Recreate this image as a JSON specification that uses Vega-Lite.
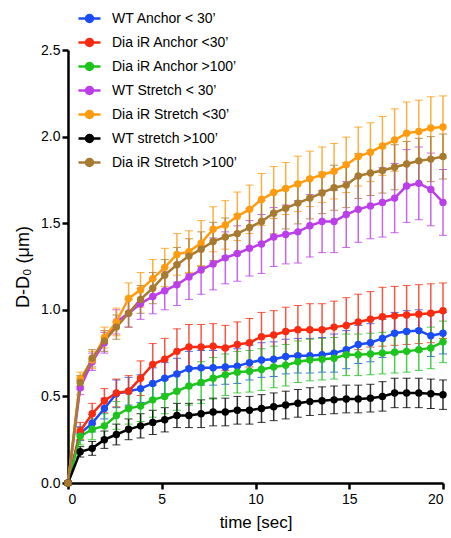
{
  "$schema": "https://vega.github.io/schema/vega-lite/v6.json",
  "width": 375,
  "height": 433,
  "autosize": "none",
  "padding": {"left": 68, "top": 50, "right": 8, "bottom": 55},
  "background": "white",
  "config": {"font": "Liberation Sans", "view": {"stroke": null}},
  "datasets": {
    "d": [
      {"s":"WT Anchor < 30’","t":0,"v":0,"e":0.01},{"s":"WT Anchor < 30’","t":0.65,"v":0.285,"e":0.04},{"s":"WT Anchor < 30’","t":1.29,"v":0.345,"e":0.05},{"s":"WT Anchor < 30’","t":1.94,"v":0.43,"e":0.06},{"s":"WT Anchor < 30’","t":2.58,"v":0.515,"e":0.08},{"s":"WT Anchor < 30’","t":3.23,"v":0.53,"e":0.08},{"s":"WT Anchor < 30’","t":3.87,"v":0.545,"e":0.08},{"s":"WT Anchor < 30’","t":4.52,"v":0.575,"e":0.09},{"s":"WT Anchor < 30’","t":5.16,"v":0.605,"e":0.09},{"s":"WT Anchor < 30’","t":5.81,"v":0.63,"e":0.09},{"s":"WT Anchor < 30’","t":6.45,"v":0.66,"e":0.1},{"s":"WT Anchor < 30’","t":7.1,"v":0.665,"e":0.1},{"s":"WT Anchor < 30’","t":7.74,"v":0.665,"e":0.1},{"s":"WT Anchor < 30’","t":8.39,"v":0.67,"e":0.1},{"s":"WT Anchor < 30’","t":9.03,"v":0.675,"e":0.1},{"s":"WT Anchor < 30’","t":9.68,"v":0.695,"e":0.1},{"s":"WT Anchor < 30’","t":10.32,"v":0.71,"e":0.1},{"s":"WT Anchor < 30’","t":10.97,"v":0.715,"e":0.1},{"s":"WT Anchor < 30’","t":11.61,"v":0.73,"e":0.1},{"s":"WT Anchor < 30’","t":12.26,"v":0.735,"e":0.1},{"s":"WT Anchor < 30’","t":12.9,"v":0.735,"e":0.1},{"s":"WT Anchor < 30’","t":13.55,"v":0.74,"e":0.1},{"s":"WT Anchor < 30’","t":14.19,"v":0.75,"e":0.11},{"s":"WT Anchor < 30’","t":14.84,"v":0.77,"e":0.11},{"s":"WT Anchor < 30’","t":15.48,"v":0.8,"e":0.11},{"s":"WT Anchor < 30’","t":16.13,"v":0.81,"e":0.11},{"s":"WT Anchor < 30’","t":16.77,"v":0.835,"e":0.11},{"s":"WT Anchor < 30’","t":17.42,"v":0.865,"e":0.12},{"s":"WT Anchor < 30’","t":18.06,"v":0.875,"e":0.12},{"s":"WT Anchor < 30’","t":18.71,"v":0.88,"e":0.12},{"s":"WT Anchor < 30’","t":19.35,"v":0.85,"e":0.12},{"s":"WT Anchor < 30’","t":20,"v":0.865,"e":0.12},

      {"s":"Dia iR Anchor <30’","t":0,"v":0,"e":0.01},{"s":"Dia iR Anchor <30’","t":0.65,"v":0.3,"e":0.05},{"s":"Dia iR Anchor <30’","t":1.29,"v":0.4,"e":0.06},{"s":"Dia iR Anchor <30’","t":1.94,"v":0.475,"e":0.07},{"s":"Dia iR Anchor <30’","t":2.58,"v":0.52,"e":0.08},{"s":"Dia iR Anchor <30’","t":3.23,"v":0.53,"e":0.09},{"s":"Dia iR Anchor <30’","t":3.87,"v":0.605,"e":0.1},{"s":"Dia iR Anchor <30’","t":4.52,"v":0.685,"e":0.12},{"s":"Dia iR Anchor <30’","t":5.16,"v":0.715,"e":0.12},{"s":"Dia iR Anchor <30’","t":5.81,"v":0.76,"e":0.13},{"s":"Dia iR Anchor <30’","t":6.45,"v":0.785,"e":0.13},{"s":"Dia iR Anchor <30’","t":7.1,"v":0.785,"e":0.13},{"s":"Dia iR Anchor <30’","t":7.74,"v":0.79,"e":0.13},{"s":"Dia iR Anchor <30’","t":8.39,"v":0.78,"e":0.13},{"s":"Dia iR Anchor <30’","t":9.03,"v":0.8,"e":0.13},{"s":"Dia iR Anchor <30’","t":9.68,"v":0.81,"e":0.14},{"s":"Dia iR Anchor <30’","t":10.32,"v":0.845,"e":0.14},{"s":"Dia iR Anchor <30’","t":10.97,"v":0.855,"e":0.14},{"s":"Dia iR Anchor <30’","t":11.61,"v":0.875,"e":0.14},{"s":"Dia iR Anchor <30’","t":12.26,"v":0.885,"e":0.14},{"s":"Dia iR Anchor <30’","t":12.9,"v":0.885,"e":0.15},{"s":"Dia iR Anchor <30’","t":13.55,"v":0.885,"e":0.15},{"s":"Dia iR Anchor <30’","t":14.19,"v":0.9,"e":0.15},{"s":"Dia iR Anchor <30’","t":14.84,"v":0.91,"e":0.16},{"s":"Dia iR Anchor <30’","t":15.48,"v":0.93,"e":0.16},{"s":"Dia iR Anchor <30’","t":16.13,"v":0.945,"e":0.16},{"s":"Dia iR Anchor <30’","t":16.77,"v":0.96,"e":0.17},{"s":"Dia iR Anchor <30’","t":17.42,"v":0.965,"e":0.17},{"s":"Dia iR Anchor <30’","t":18.06,"v":0.97,"e":0.17},{"s":"Dia iR Anchor <30’","t":18.71,"v":0.975,"e":0.17},{"s":"Dia iR Anchor <30’","t":19.35,"v":0.98,"e":0.17},{"s":"Dia iR Anchor <30’","t":20,"v":0.995,"e":0.16},

      {"s":"Dia iR Anchor >100’","t":0,"v":0,"e":0.01},{"s":"Dia iR Anchor >100’","t":0.65,"v":0.27,"e":0.05},{"s":"Dia iR Anchor >100’","t":1.29,"v":0.31,"e":0.06},{"s":"Dia iR Anchor >100’","t":1.94,"v":0.33,"e":0.07},{"s":"Dia iR Anchor >100’","t":2.58,"v":0.39,"e":0.08},{"s":"Dia iR Anchor >100’","t":3.23,"v":0.43,"e":0.09},{"s":"Dia iR Anchor >100’","t":3.87,"v":0.445,"e":0.09},{"s":"Dia iR Anchor >100’","t":4.52,"v":0.48,"e":0.1},{"s":"Dia iR Anchor >100’","t":5.16,"v":0.5,"e":0.1},{"s":"Dia iR Anchor >100’","t":5.81,"v":0.53,"e":0.11},{"s":"Dia iR Anchor >100’","t":6.45,"v":0.56,"e":0.11},{"s":"Dia iR Anchor >100’","t":7.1,"v":0.58,"e":0.12},{"s":"Dia iR Anchor >100’","t":7.74,"v":0.605,"e":0.12},{"s":"Dia iR Anchor >100’","t":8.39,"v":0.625,"e":0.12},{"s":"Dia iR Anchor >100’","t":9.03,"v":0.64,"e":0.12},{"s":"Dia iR Anchor >100’","t":9.68,"v":0.645,"e":0.12},{"s":"Dia iR Anchor >100’","t":10.32,"v":0.655,"e":0.12},{"s":"Dia iR Anchor >100’","t":10.97,"v":0.67,"e":0.12},{"s":"Dia iR Anchor >100’","t":11.61,"v":0.68,"e":0.12},{"s":"Dia iR Anchor >100’","t":12.26,"v":0.7,"e":0.12},{"s":"Dia iR Anchor >100’","t":12.9,"v":0.71,"e":0.12},{"s":"Dia iR Anchor >100’","t":13.55,"v":0.715,"e":0.12},{"s":"Dia iR Anchor >100’","t":14.19,"v":0.72,"e":0.12},{"s":"Dia iR Anchor >100’","t":14.84,"v":0.74,"e":0.12},{"s":"Dia iR Anchor >100’","t":15.48,"v":0.74,"e":0.12},{"s":"Dia iR Anchor >100’","t":16.13,"v":0.745,"e":0.12},{"s":"Dia iR Anchor >100’","t":16.77,"v":0.75,"e":0.12},{"s":"Dia iR Anchor >100’","t":17.42,"v":0.755,"e":0.12},{"s":"Dia iR Anchor >100’","t":18.06,"v":0.76,"e":0.12},{"s":"Dia iR Anchor >100’","t":18.71,"v":0.77,"e":0.12},{"s":"Dia iR Anchor >100’","t":19.35,"v":0.78,"e":0.12},{"s":"Dia iR Anchor >100’","t":20,"v":0.815,"e":0.12},

      {"s":"WT Stretch < 30’","t":0,"v":0,"e":0.01},{"s":"WT Stretch < 30’","t":0.65,"v":0.55,"e":0.04},{"s":"WT Stretch < 30’","t":1.29,"v":0.7,"e":0.05},{"s":"WT Stretch < 30’","t":1.94,"v":0.81,"e":0.06},{"s":"WT Stretch < 30’","t":2.58,"v":0.93,"e":0.07},{"s":"WT Stretch < 30’","t":3.23,"v":0.98,"e":0.08},{"s":"WT Stretch < 30’","t":3.87,"v":1.035,"e":0.09},{"s":"WT Stretch < 30’","t":4.52,"v":1.077,"e":0.1},{"s":"WT Stretch < 30’","t":5.16,"v":1.11,"e":0.11},{"s":"WT Stretch < 30’","t":5.81,"v":1.145,"e":0.12},{"s":"WT Stretch < 30’","t":6.45,"v":1.19,"e":0.13},{"s":"WT Stretch < 30’","t":7.1,"v":1.23,"e":0.14},{"s":"WT Stretch < 30’","t":7.74,"v":1.265,"e":0.15},{"s":"WT Stretch < 30’","t":8.39,"v":1.3,"e":0.15},{"s":"WT Stretch < 30’","t":9.03,"v":1.325,"e":0.16},{"s":"WT Stretch < 30’","t":9.68,"v":1.355,"e":0.16},{"s":"WT Stretch < 30’","t":10.32,"v":1.38,"e":0.17},{"s":"WT Stretch < 30’","t":10.97,"v":1.42,"e":0.17},{"s":"WT Stretch < 30’","t":11.61,"v":1.435,"e":0.17},{"s":"WT Stretch < 30’","t":12.26,"v":1.45,"e":0.18},{"s":"WT Stretch < 30’","t":12.9,"v":1.485,"e":0.18},{"s":"WT Stretch < 30’","t":13.55,"v":1.51,"e":0.18},{"s":"WT Stretch < 30’","t":14.19,"v":1.51,"e":0.18},{"s":"WT Stretch < 30’","t":14.84,"v":1.55,"e":0.19},{"s":"WT Stretch < 30’","t":15.48,"v":1.58,"e":0.19},{"s":"WT Stretch < 30’","t":16.13,"v":1.6,"e":0.19},{"s":"WT Stretch < 30’","t":16.77,"v":1.62,"e":0.2},{"s":"WT Stretch < 30’","t":17.42,"v":1.645,"e":0.2},{"s":"WT Stretch < 30’","t":18.06,"v":1.715,"e":0.21},{"s":"WT Stretch < 30’","t":18.71,"v":1.73,"e":0.21},{"s":"WT Stretch < 30’","t":19.35,"v":1.695,"e":0.21},{"s":"WT Stretch < 30’","t":20,"v":1.62,"e":0.19},

      {"s":"Dia iR Stretch <30’","t":0,"v":0,"e":0.01},{"s":"Dia iR Stretch <30’","t":0.65,"v":0.6,"e":0.04},{"s":"Dia iR Stretch <30’","t":1.29,"v":0.71,"e":0.05},{"s":"Dia iR Stretch <30’","t":1.94,"v":0.84,"e":0.06},{"s":"Dia iR Stretch <30’","t":2.58,"v":0.93,"e":0.08},{"s":"Dia iR Stretch <30’","t":3.23,"v":1.065,"e":0.09},{"s":"Dia iR Stretch <30’","t":3.87,"v":1.115,"e":0.1},{"s":"Dia iR Stretch <30’","t":4.52,"v":1.18,"e":0.11},{"s":"Dia iR Stretch <30’","t":5.16,"v":1.245,"e":0.11},{"s":"Dia iR Stretch <30’","t":5.81,"v":1.32,"e":0.12},{"s":"Dia iR Stretch <30’","t":6.45,"v":1.336,"e":0.12},{"s":"Dia iR Stretch <30’","t":7.1,"v":1.385,"e":0.13},{"s":"Dia iR Stretch <30’","t":7.74,"v":1.465,"e":0.13},{"s":"Dia iR Stretch <30’","t":8.39,"v":1.49,"e":0.14},{"s":"Dia iR Stretch <30’","t":9.03,"v":1.54,"e":0.14},{"s":"Dia iR Stretch <30’","t":9.68,"v":1.58,"e":0.14},{"s":"Dia iR Stretch <30’","t":10.32,"v":1.637,"e":0.15},{"s":"Dia iR Stretch <30’","t":10.97,"v":1.677,"e":0.15},{"s":"Dia iR Stretch <30’","t":11.61,"v":1.7,"e":0.15},{"s":"Dia iR Stretch <30’","t":12.26,"v":1.727,"e":0.16},{"s":"Dia iR Stretch <30’","t":12.9,"v":1.756,"e":0.16},{"s":"Dia iR Stretch <30’","t":13.55,"v":1.78,"e":0.16},{"s":"Dia iR Stretch <30’","t":14.19,"v":1.8,"e":0.16},{"s":"Dia iR Stretch <30’","t":14.84,"v":1.837,"e":0.16},{"s":"Dia iR Stretch <30’","t":15.48,"v":1.885,"e":0.17},{"s":"Dia iR Stretch <30’","t":16.13,"v":1.91,"e":0.17},{"s":"Dia iR Stretch <30’","t":16.77,"v":1.946,"e":0.17},{"s":"Dia iR Stretch <30’","t":17.42,"v":1.98,"e":0.18},{"s":"Dia iR Stretch <30’","t":18.06,"v":2.02,"e":0.18},{"s":"Dia iR Stretch <30’","t":18.71,"v":2.03,"e":0.18},{"s":"Dia iR Stretch <30’","t":19.35,"v":2.05,"e":0.18},{"s":"Dia iR Stretch <30’","t":20,"v":2.055,"e":0.18},

      {"s":"WT stretch >100’","t":0,"v":0,"e":0.01},{"s":"WT stretch >100’","t":0.65,"v":0.18,"e":0.03},{"s":"WT stretch >100’","t":1.29,"v":0.2,"e":0.04},{"s":"WT stretch >100’","t":1.94,"v":0.25,"e":0.05},{"s":"WT stretch >100’","t":2.58,"v":0.28,"e":0.06},{"s":"WT stretch >100’","t":3.23,"v":0.31,"e":0.06},{"s":"WT stretch >100’","t":3.87,"v":0.33,"e":0.07},{"s":"WT stretch >100’","t":4.52,"v":0.35,"e":0.07},{"s":"WT stretch >100’","t":5.16,"v":0.365,"e":0.07},{"s":"WT stretch >100’","t":5.81,"v":0.39,"e":0.07},{"s":"WT stretch >100’","t":6.45,"v":0.39,"e":0.07},{"s":"WT stretch >100’","t":7.1,"v":0.4,"e":0.08},{"s":"WT stretch >100’","t":7.74,"v":0.41,"e":0.08},{"s":"WT stretch >100’","t":8.39,"v":0.41,"e":0.08},{"s":"WT stretch >100’","t":9.03,"v":0.42,"e":0.08},{"s":"WT stretch >100’","t":9.68,"v":0.42,"e":0.08},{"s":"WT stretch >100’","t":10.32,"v":0.43,"e":0.08},{"s":"WT stretch >100’","t":10.97,"v":0.44,"e":0.08},{"s":"WT stretch >100’","t":11.61,"v":0.45,"e":0.08},{"s":"WT stretch >100’","t":12.26,"v":0.46,"e":0.08},{"s":"WT stretch >100’","t":12.9,"v":0.47,"e":0.08},{"s":"WT stretch >100’","t":13.55,"v":0.475,"e":0.08},{"s":"WT stretch >100’","t":14.19,"v":0.48,"e":0.08},{"s":"WT stretch >100’","t":14.84,"v":0.485,"e":0.08},{"s":"WT stretch >100’","t":15.48,"v":0.485,"e":0.08},{"s":"WT stretch >100’","t":16.13,"v":0.49,"e":0.08},{"s":"WT stretch >100’","t":16.77,"v":0.5,"e":0.085},{"s":"WT stretch >100’","t":17.42,"v":0.52,"e":0.085},{"s":"WT stretch >100’","t":18.06,"v":0.52,"e":0.085},{"s":"WT stretch >100’","t":18.71,"v":0.52,"e":0.085},{"s":"WT stretch >100’","t":19.35,"v":0.515,"e":0.085},{"s":"WT stretch >100’","t":20,"v":0.51,"e":0.085},

      {"s":"Dia iR Stretch >100’","t":0,"v":0,"e":0.01},{"s":"Dia iR Stretch >100’","t":0.65,"v":0.58,"e":0.04},{"s":"Dia iR Stretch >100’","t":1.29,"v":0.72,"e":0.05},{"s":"Dia iR Stretch >100’","t":1.94,"v":0.82,"e":0.06},{"s":"Dia iR Stretch >100’","t":2.58,"v":0.9,"e":0.07},{"s":"Dia iR Stretch >100’","t":3.23,"v":0.98,"e":0.08},{"s":"Dia iR Stretch >100’","t":3.87,"v":1.06,"e":0.08},{"s":"Dia iR Stretch >100’","t":4.52,"v":1.125,"e":0.09},{"s":"Dia iR Stretch >100’","t":5.16,"v":1.2,"e":0.09},{"s":"Dia iR Stretch >100’","t":5.81,"v":1.26,"e":0.1},{"s":"Dia iR Stretch >100’","t":6.45,"v":1.31,"e":0.1},{"s":"Dia iR Stretch >100’","t":7.1,"v":1.35,"e":0.1},{"s":"Dia iR Stretch >100’","t":7.74,"v":1.395,"e":0.11},{"s":"Dia iR Stretch >100’","t":8.39,"v":1.42,"e":0.11},{"s":"Dia iR Stretch >100’","t":9.03,"v":1.44,"e":0.11},{"s":"Dia iR Stretch >100’","t":9.68,"v":1.475,"e":0.11},{"s":"Dia iR Stretch >100’","t":10.32,"v":1.51,"e":0.12},{"s":"Dia iR Stretch >100’","t":10.97,"v":1.558,"e":0.12},{"s":"Dia iR Stretch >100’","t":11.61,"v":1.587,"e":0.12},{"s":"Dia iR Stretch >100’","t":12.26,"v":1.616,"e":0.12},{"s":"Dia iR Stretch >100’","t":12.9,"v":1.645,"e":0.12},{"s":"Dia iR Stretch >100’","t":13.55,"v":1.675,"e":0.12},{"s":"Dia iR Stretch >100’","t":14.19,"v":1.705,"e":0.13},{"s":"Dia iR Stretch >100’","t":14.84,"v":1.72,"e":0.13},{"s":"Dia iR Stretch >100’","t":15.48,"v":1.773,"e":0.13},{"s":"Dia iR Stretch >100’","t":16.13,"v":1.79,"e":0.13},{"s":"Dia iR Stretch >100’","t":16.77,"v":1.804,"e":0.13},{"s":"Dia iR Stretch >100’","t":17.42,"v":1.823,"e":0.13},{"s":"Dia iR Stretch >100’","t":18.06,"v":1.842,"e":0.13},{"s":"Dia iR Stretch >100’","t":18.71,"v":1.86,"e":0.13},{"s":"Dia iR Stretch >100’","t":19.35,"v":1.87,"e":0.13},{"s":"Dia iR Stretch >100’","t":20,"v":1.885,"e":0.13}
    ]
  },
  "data": {"name": "d"},
  "encoding": {
    "x": {
      "field": "t", "type": "quantitative",
      "scale": {"domain": [0, 20], "nice": false},
      "axis": {
        "values": [0, 5, 10, 15, 20], "title": "time [sec]", "grid": false,
        "domainWidth": 2.5, "domainColor": "black", "tickColor": "black", "tickWidth": 2.5, "tickSize": 6,
        "labelFontSize": 14, "labelColor": "black", "labelPadding": 3,
        "titleFontSize": 17, "titleFontWeight": "normal", "titleColor": "black", "titlePadding": 8
      }
    },
    "y": {
      "field": "v", "type": "quantitative",
      "scale": {"domain": [0, 2.5], "nice": false},
      "axis": {
        "values": [0, 0.5, 1, 1.5, 2, 2.5], "format": ".1f", "title": "D-D₀ (μm)", "grid": false,
        "domainWidth": 2.5, "domainColor": "black", "tickColor": "black", "tickWidth": 2.5, "tickSize": 6,
        "labelFontSize": 14, "labelColor": "black", "labelPadding": 2,
        "titleFontSize": 18, "titleFontWeight": "normal", "titleColor": "black", "titlePadding": 8
      }
    },
    "color": {
      "field": "s", "type": "nominal",
      "scale": {
        "domain": ["WT Anchor < 30’", "Dia iR Anchor <30’", "Dia iR Anchor >100’", "WT Stretch < 30’", "Dia iR Stretch <30’", "WT stretch >100’", "Dia iR Stretch >100’"],
        "range": ["#1a4cf5", "#fa2a10", "#1cc41c", "#bb3ee8", "#ff9b0f", "#000000", "#a87a30"]
      },
      "legend": {
        "orient": "none", "legendX": 9, "legendY": -44, "title": null, "padding": 0,
        "symbolType": "M-1,0L1,0M-0.32,0A0.32,0.32,0,1,1,0.32,0A0.32,0.32,0,1,1,-0.32,0",
        "symbolSize": 484, "symbolStrokeWidth": 2.5, "symbolOpacity": 1,
        "labelFontSize": 14, "labelColor": "black", "labelOffset": 10, "rowPadding": 2
      }
    }
  },
  "layer": [
    {
      "mark": {"type": "errorbar", "ticks": {"size": 8, "strokeWidth": 1.5}, "rule": {"strokeWidth": 1.5}, "opacity": 0.8},
      "encoding": {"yError": {"field": "e"}}
    },
    {"mark": {"type": "line", "strokeWidth": 2.5}},
    {"mark": {"type": "point", "filled": true, "size": 55, "opacity": 1}}
  ]
}
